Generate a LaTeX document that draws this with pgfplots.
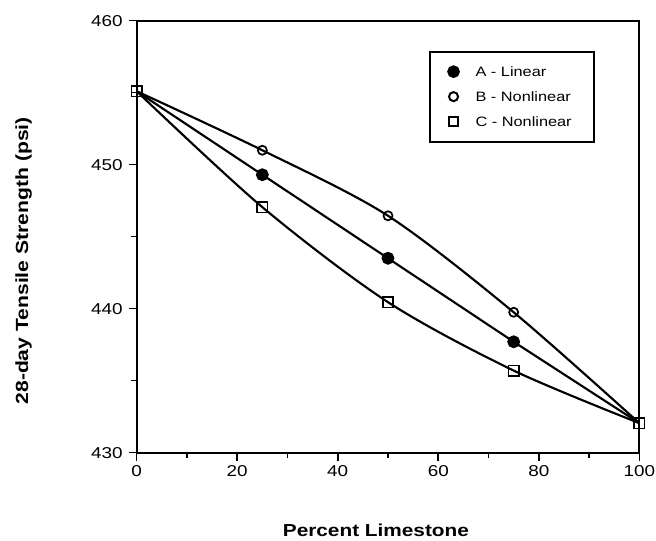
\documentclass[border=0pt]{standalone}
\usepackage{fontspec}
\setmainfont{Liberation Sans}[FakeStretch=1.2]
\usepackage{pgfplots}
\pgfplotsset{compat=1.18}

\begin{document}
\begin{tikzpicture}
\begin{axis}[
    name=ax,
    scale only axis,
    width=377pt, height=324pt,
    xmin=0, xmax=100, ymin=430, ymax=460,
    xtick={0,20,...,100}, minor xtick={10,30,...,90},
    ytick={430,440,450,460}, minor ytick={435,445,455},
    tick align=outside, tick pos=left,
    major tick length=6pt, minor tick length=4pt,
    axis line style={line width=1.6pt},
    every tick/.style={black, line width=1.2pt},
    /pgf/number format/assume math mode=true,
    /pgf/number format/1000 sep={},
    ticklabel style={font=\fontsize{11.8}{14}\selectfont},
    yticklabel style={xshift=-1pt},
    xlabel={\bfseries\fontsize{13}{15}\selectfont Percent Limestone},
    xlabel style={at={(axis description cs:0.476,-0.195)}, anchor=base},
    ylabel={\bfseries\fontsize{13.2}{15}\selectfont 28-day Tensile Strength (psi)},
    ylabel style={at={(axis description cs:-0.216,0.444)}, anchor=base},
    legend cell align=left,
    legend style={at={(0.582,0.9306)}, anchor=north west, draw=black,
        line width=1.5pt, inner xsep=13.5pt, inner ysep=11pt,
        font=\fontsize{10.2}{12}\selectfont,
        /tikz/row sep=10.75pt,
        /tikz/every odd column/.append style={column sep=12.5pt},
        nodes={inner sep=0pt, text height=8pt, text depth=0pt, text width=75pt}},
]
% A - linear
\addplot[black, line width=1.6pt, mark=*, mark size=4pt, mark indices={2,3,4}, forget plot]
    coordinates {(0,455.1) (25,449.3) (50,443.5) (75,437.7) (100,432.05)};
% B - nonlinear
\addplot[black, line width=1.6pt, smooth, tension=0.5, mark=o, mark size=3.4pt,
    mark indices={2,3,4}, mark options={line width=1.3pt}, forget plot]
    coordinates {(0,455.1) (25,451.0) (50,446.45) (75,439.75) (100,432.05)};
% C - nonlinear
\addplot[black, line width=1.6pt, smooth, tension=0.5, mark=square, mark size=3.9pt,
    mark options={line width=1.2pt}, forget plot]
    coordinates {(0,455.1) (25,447.05) (50,440.45) (75,435.7) (100,432.05)};

\addlegendimage{only marks, black, mark=*, mark size=4pt}
\addlegendentry{A - Linear}
\addlegendimage{only marks, black, mark=o, mark size=3.4pt, mark options={line width=1.5pt}}
\addlegendentry{B - Nonlinear}
\addlegendimage{only marks, black, mark=square, mark size=3.6pt, mark options={line width=1.5pt}}
\addlegendentry{C - Nonlinear}
\end{axis}
\pgfresetboundingbox
\path ([shift={(-102.5pt,-66.2pt)}]ax.south west) rectangle ([shift={(12.5pt,15.5pt)}]ax.north east);
\end{tikzpicture}
\end{document}
